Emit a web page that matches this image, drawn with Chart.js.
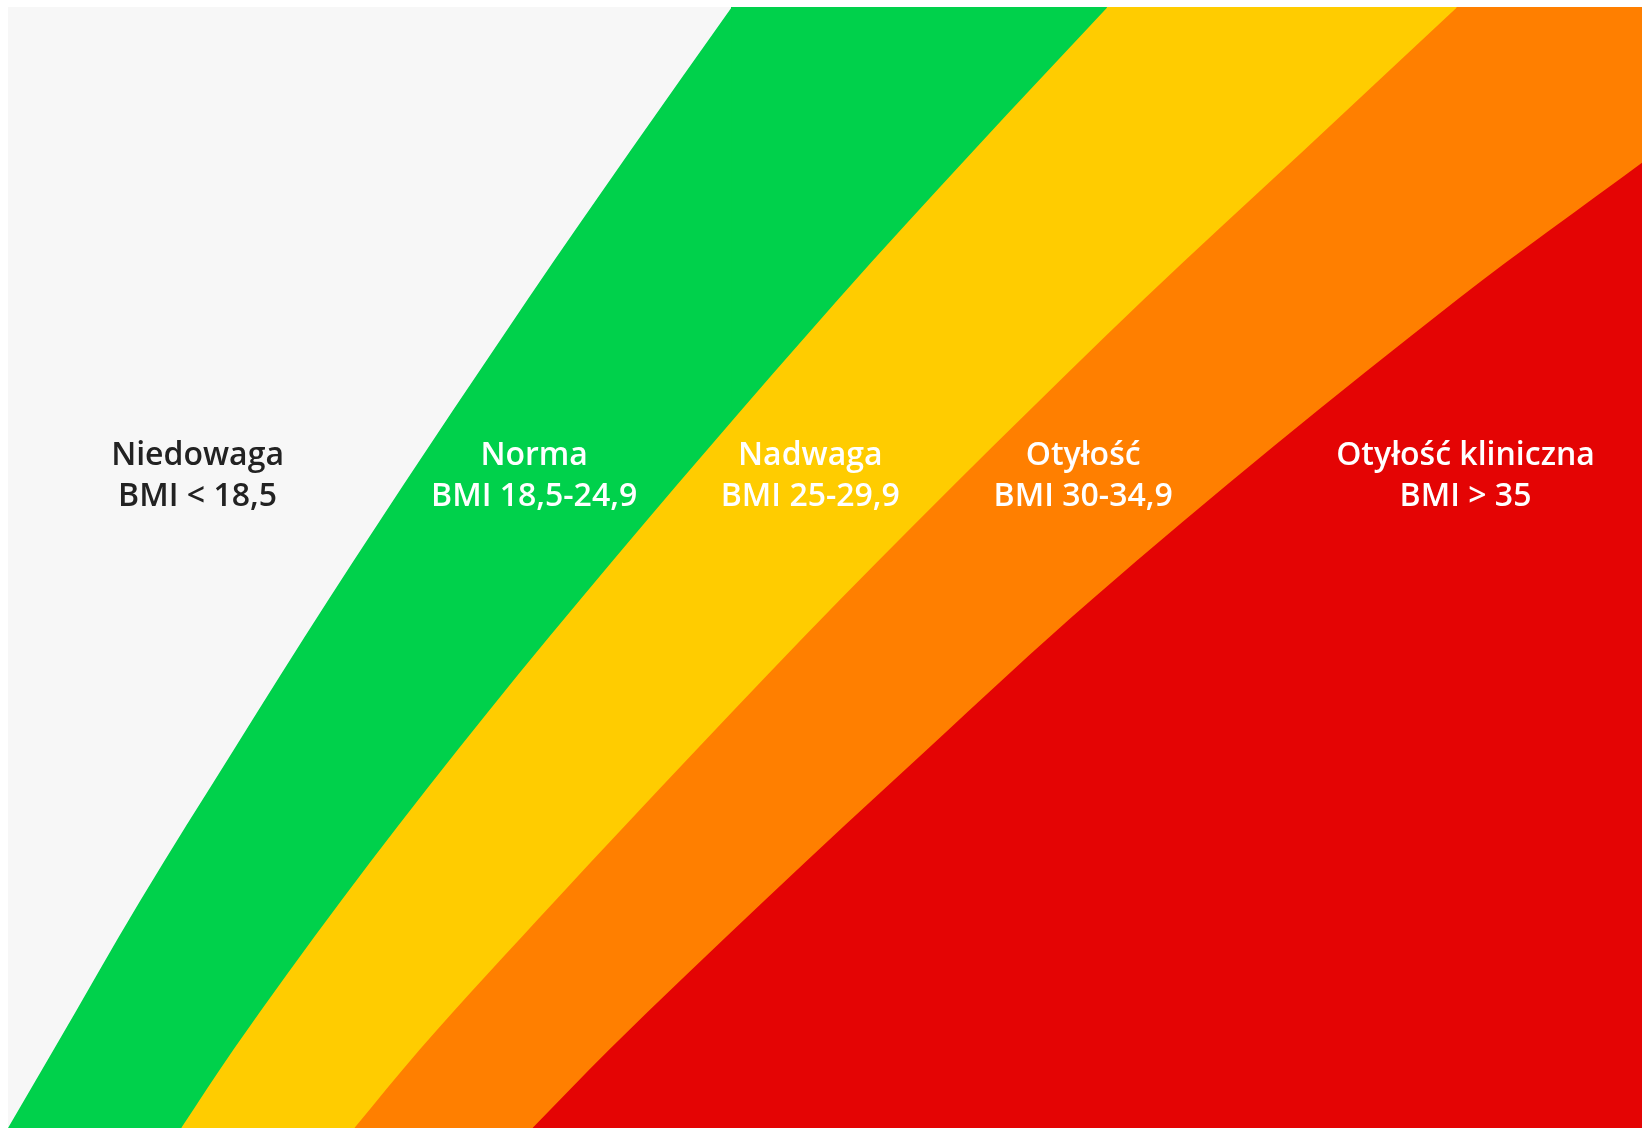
<!DOCTYPE html>
<html lang="pl">
<head>
<meta charset="utf-8">
<title>BMI</title>
<script src="https://cdn.jsdelivr.net/npm/chart.js@4.4.1/dist/chart.umd.min.js"></script>
<style>
    html, body { margin: 0; padding: 0; background: #ffffff; }
    #wrap { width: 1642px; height: 1131px; }
</style>
</head>
<body>
<div id="wrap"><canvas id="bmiChart"></canvas></div>
<script>
var heights = [0, 7, 20.3, 33.7, 47.1, 73.9, 87.2, 100];
var redHeights = [0, 7, 20.3, 33.7, 47.1, 73.9, 86.1];

// Weight position (0 = left, 100 = right) of each border at those heights
var normaStart = [0, 2.8, 8.1, 13.8, 19.6, 31.8, 38.1, 44.3];      // BMI 18,5
var nadwagaStart = [10.6, 13.8, 20.4, 27.5, 35.0, 50.8, 59.1, 67.3]; // BMI 25
var otyloscStart = [21.2, 25.2, 33.5, 42.1, 50.9, 69.5, 79.3, 88.7]; // BMI 30
var klinicznaStart = [32.1, 36.8, 46.3, 56.2, 66.3, 88.7, 100];      // BMI 35

var zoneNames = ['Niedowaga', 'Norma', 'Nadwaga', 'Otyłość', 'Otyłość kliniczna'];
var zoneRanges = ['BMI < 18,5', 'BMI 18,5-24,9', 'BMI 25-29,9', 'BMI 30-34,9', 'BMI > 35'];

// Helper: points of a border curve
function curve(xs, ys) {
    return xs.map(function (x, i) {
        return { x: x, y: ys[i] };
    });
}

// Helper: the part of a zone right of where its border leaves the top edge
// (starts a hair to the left so no seam shows between the two fills)
function topStrip(xs, ys) {
    var i = xs.length - 1;
    return [{ x: xs[i] - 0.06, y: ys[i] }, { x: 100, y: ys[i] }];
}

function zone(label, pts, color, fill, order, smooth) {
    return {
        label: label,
        data: pts,
        backgroundColor: color,
        borderColor: 'rgba(0,0,0,0)',
        borderWidth: 0,
        pointRadius: 0,
        cubicInterpolationMode: smooth ? 'monotone' : 'default',
        tension: 0,
        fill: fill,
        order: order
    };
}

// Zone captions drawn at positions on the scales
var labelPlugin = {
    id: 'zoneLabels',
    afterDatasetsDraw: function (chart, args, opts) {
        var ctx = chart.ctx;
        var xs = chart.scales.x, ys = chart.scales.y;
        ctx.save();
        ctx.textAlign = 'center';
        ctx.textBaseline = 'alphabetic';
        ctx.font = opts.font;
        zoneNames.forEach(function (name, i) {
            var px = xs.getPixelForValue(opts.x[i]);
            var py = ys.getPixelForValue(opts.y);
            ctx.fillStyle = opts.colors[i];
            ctx.fillText(name, px, py - opts.gap / 2);
            ctx.fillText(zoneRanges[i], px, py + opts.gap / 2);
        });
        ctx.restore();
    }
};

var red = '#e40404', orange = '#ff7f00', yellow = '#ffcc00', green = '#00d14b', grey = '#f7f7f7';

var ctx = document.getElementById('bmiChart').getContext('2d');
new Chart(ctx, {
    type: 'line',
    data: {
        datasets: [
            zone('Otyłość kliniczna', curve(klinicznaStart, redHeights), red, 'start', 1, true),
            zone('Otyłość', curve(otyloscStart, heights), orange, 'start', 2, true),
            zone('Otyłość', topStrip(otyloscStart, heights), orange, 'start', 2, false),
            zone('Nadwaga', curve(nadwagaStart, heights), yellow, 'start', 3, true),
            zone('Nadwaga', topStrip(nadwagaStart, heights), yellow, 'start', 3, false),
            zone('Norma', curve(normaStart, heights), green, 'start', 4, true),
            zone('Norma', topStrip(normaStart, heights), green, 'start', 4, false),
            zone('Niedowaga', curve(normaStart, heights), grey, 'end', 5, true)
        ]
    },
    options: {
        responsive: true,
        maintainAspectRatio: false,
        animation: false,
        layout: { padding: { left: 8, top: 7, right: 0, bottom: 3 } },
        scales: {
            x: { type: 'linear', min: 0, max: 100, display: false },
            y: { type: 'linear', min: 0, max: 100, display: false }
        },
        plugins: {
            legend: { display: false },
            tooltip: { enabled: false },
            zoneLabels: {
                x: [11.6, 32.2, 49.1, 65.8, 89.2],
                y: 57.3,
                gap: 41,
                font: '600 32px "Open Sans", sans-serif',
                colors: ['#222222', '#ffffff', '#ffffff', '#ffffff', '#ffffff']
            }
        }
    },
    plugins: [labelPlugin]
});
</script>
</body>
</html>
